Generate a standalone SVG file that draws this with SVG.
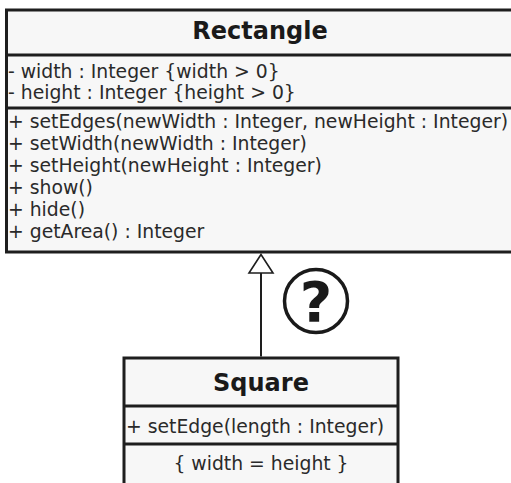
<svg xmlns="http://www.w3.org/2000/svg" width="511" height="483" viewBox="0 0 511 483">
  <defs>
    <style>
      .box { fill: #f7f7f7; stroke: #1e1e1e; stroke-width: 3; }
      .sep { stroke: #1e1e1e; stroke-width: 3; }
      .title { font-family: "DejaVu Sans", Verdana, sans-serif; font-weight: bold; font-size: 24px; fill: #1a1a1a; text-anchor: middle; }
      .txt { font-family: "DejaVu Sans", Verdana, sans-serif; font-size: 18.8px; fill: #2a2a2a; }
      .conn { stroke: #1e1e1e; stroke-width: 2; fill: none; }
      .head { fill: #ffffff; stroke: #1e1e1e; stroke-width: 1.6; }
    </style>
  </defs>
  <rect width="511" height="483" fill="#ffffff"/>

  <g id="Rectangle">
    <rect class="box" x="6.5" y="10" width="510" height="242"/>
    <line class="sep" x1="6.5" y1="55" x2="511" y2="55"/>
    <line class="sep" x1="6.5" y1="108" x2="511" y2="108"/>
    <text class="title" x="260" y="39">Rectangle</text>
    <text class="txt" x="8" y="78">- width : Integer {width &gt; 0}</text>
    <text class="txt" x="8" y="99">- height : Integer {height &gt; 0}</text>
    <text class="txt" x="8" y="128">+ setEdges(newWidth : Integer, newHeight : Integer)</text>
    <text class="txt" x="8" y="150">+ setWidth(newWidth : Integer)</text>
    <text class="txt" x="8" y="172">+ setHeight(newHeight : Integer)</text>
    <text class="txt" x="8" y="194">+ show()</text>
    <text class="txt" x="8" y="216">+ hide()</text>
    <text class="txt" x="8" y="238">+ getArea() : Integer</text>
  </g>

  <g id="Square">
    <rect class="box" x="124" y="358" width="274" height="130"/>
    <line class="sep" x1="124" y1="406" x2="398" y2="406"/>
    <line class="sep" x1="124" y1="444" x2="398" y2="444"/>
    <text class="title" x="261" y="391">Square</text>
    <text class="txt" x="126" y="433">+ setEdge(length : Integer)</text>
    <text class="txt" x="261" y="470" text-anchor="middle">{ width = height }</text>
  </g>

  <g id="question">
    <circle cx="316" cy="301" r="31.5" fill="#ffffff" stroke="#1a1a1a" stroke-width="3.5"/>
    <text x="316" y="321" font-family="DejaVu Sans, Verdana, sans-serif" font-weight="bold" font-size="56" fill="#1a1a1a" text-anchor="middle">?</text>
  </g>

  <g id="connectors">
    <line class="conn" x1="261" y1="356.5" x2="261" y2="273"/>
    <path class="head" d="M261,254.5 L249,273 L273,273 Z"/>
  </g>
</svg>
